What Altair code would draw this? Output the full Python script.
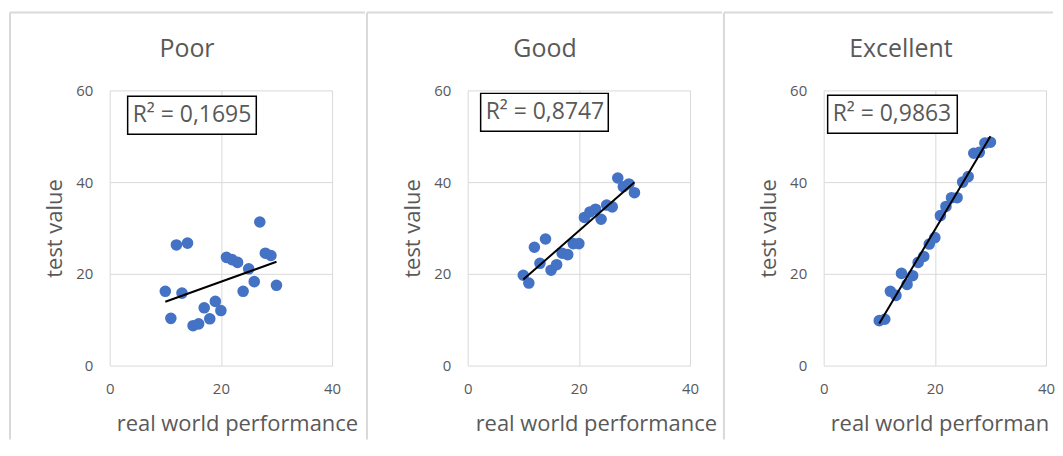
import altair as alt
import pandas as pd

# ---- data ----
performance = [10, 11, 12, 13, 14, 15, 16, 17, 18, 19, 20,
               21, 22, 23, 24, 25, 26, 27, 28, 29, 30]
poor = [16.2, 10.3, 26.3, 15.8, 26.7, 8.7, 9.1, 12.6, 10.2, 14.0, 12.0,
        23.6, 23.1, 22.5, 16.2, 21.1, 18.3, 31.3, 24.5, 24.0, 17.5]
good = [19.7, 18.0, 25.8, 22.3, 27.6, 20.8, 22.0, 24.5, 24.2, 26.6, 26.6,
        32.3, 33.5, 34.1, 31.9, 35.0, 34.6, 40.9, 39.0, 39.6, 37.7]
excellent = [9.8, 10.1, 16.2, 15.3, 20.1, 17.7, 19.6, 22.5, 23.8, 26.5, 27.9,
             32.7, 34.7, 36.6, 36.6, 40.0, 41.2, 46.3, 46.5, 48.5, 48.7]
panel_names = ["Poor", "Good", "Excellent"]
r2_labels = ["R² = 0,1695", "R² = 0,8747", "R² = 0,9863"]
x_ticks = [0, 20, 40]
y_ticks = [0, 20, 40, 60]
x_title = "real world performance"
y_title = "test value"

FONT = "Open Sans"
GREY = "#595959"
GRID = "#d9d9d9"
W, H = 223, 276

# layout / decoration settings per panel
layout = [
    dict(left=-100, top_end=256, box=(18, 147, 6, 44), dx=-34, xt=7, limit=0),
    dict(left=-101, top_end=255, box=(13, 141, 3, 41), dx=-34, xt=8, limit=0),
    dict(left=-100, top_end=230, box=(4, 134, 5, 43), dx=-34, xt=7, limit=225),
]

one = pd.DataFrame({"k": [0]})


def panel(name, values, r2, lay):
    df = pd.DataFrame({"performance": performance, "value": values})
    x_enc = alt.X(
        "performance:Q",
        scale=alt.Scale(domain=[0, 40], nice=False),
        axis=alt.Axis(
            values=x_ticks, grid=True, gridColor=GRID, gridWidth=1,
            domain=False, ticks=False, tickSize=0, labelPadding=16,
            labelFlush=False,
            labelFontSize=15, labelColor=GREY, labelFont=FONT,
            title=None,
        ),
    )
    y_enc = alt.Y(
        "value:Q",
        scale=alt.Scale(domain=[0, 60], nice=False),
        axis=alt.Axis(
            values=y_ticks, grid=True, gridColor=GRID, gridWidth=1,
            domain=False, ticks=False, tickSize=0, labelPadding=17,
            labelFlush=False,
            labelFontSize=15, labelColor=GREY, labelFont=FONT,
            title=y_title, titleFont=FONT, titleFontSize=22,
            titleFontWeight="normal", titleColor=GREY,
            titleX=-48, titleY=H / 2, titleBaseline="alphabetic",
            titleAlign="center", titleAngle=270,
        ),
    )
    base = alt.Chart(df)
    points = base.mark_circle(size=135, color="#4472C4", opacity=1).encode(x=x_enc, y=y_enc)
    trend = base.transform_regression("performance", "value").mark_line(
        color="black", strokeWidth=2
    ).encode(x="performance:Q", y="value:Q")

    frame_left = alt.Chart(one).mark_rule(color=GRID, strokeWidth=2).encode(
        x=alt.value(lay["left"]), y=alt.value(-78), y2=alt.value(350)
    )
    frame_top = alt.Chart(one).mark_rule(color=GRID, strokeWidth=2).encode(
        x=alt.value(lay["left"]), x2=alt.value(lay["top_end"]), y=alt.value(-78)
    )
    bx0, bx1, by0, by1 = lay["box"]
    box = alt.Chart(one).mark_rect(fill="white", stroke="black", strokeWidth=1.5).encode(
        x=alt.value(bx0), x2=alt.value(bx1), y=alt.value(by0), y2=alt.value(by1)
    )
    label = alt.Chart(one).mark_text(
        align="left", baseline="middle", font=FONT, fontSize=23, color=GREY
    ).encode(x=alt.value(bx0 + 5), y=alt.value((by0 + by1) / 2), text=alt.value(r2))
    title = alt.Chart(one).mark_text(
        align="center", baseline="alphabetic", font=FONT, fontSize=25, color=GREY
    ).encode(x=alt.value(W / 2 + lay["dx"]), y=alt.value(-33), text=alt.value(name))
    xt_kwargs = dict(align="left", baseline="alphabetic", font=FONT, fontSize=22, color=GREY)
    if lay["limit"]:
        xt_kwargs.update(limit=lay["limit"], ellipsis="\u200b")
    xtitle = alt.Chart(one).mark_text(**xt_kwargs).encode(
        x=alt.value(lay["xt"]), y=alt.value(H + 66), text=alt.value(x_title)
    )

    return alt.layer(frame_left, frame_top, points, trend, box, label, title, xtitle).properties(
        width=W, height=H
    )


series = [poor, good, excellent]
charts = [panel(n, v, r, l) for n, v, r, l in zip(panel_names, series, r2_labels, layout)]

chart = alt.hconcat(*charts, spacing=0).properties(
    padding={"left": 1, "top": 3, "right": 0, "bottom": 0}
).configure_view(stroke=None)

chart.save("out.html", embed_options={"renderer": "svg", "actions": False})
